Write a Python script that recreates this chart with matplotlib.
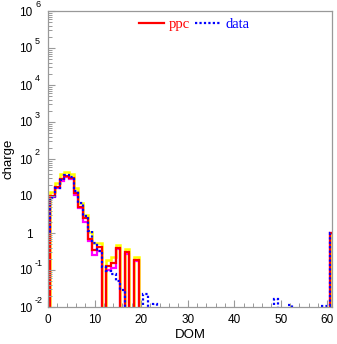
import numpy as np
import matplotlib
matplotlib.use("Agg")
import matplotlib.pyplot as plt
import matplotlib.transforms as mtransforms
from matplotlib.ticker import FixedLocator, FuncFormatter, LogLocator, MultipleLocator
from matplotlib.lines import Line2D

plt.rcParams["font.family"] = ["Liberation Sans", "DejaVu Sans"]

# Charge per DOM (bins centred on integer DOM numbers), sparse: DOM -> value
ppc_dom = [1, 2, 3, 4, 5, 6, 7, 8, 9, 10, 11, 13, 14, 15, 17, 19, 61]
ppc_val = [10, 17, 28, 34, 30, 12, 5.0, 2.5, 0.7, 0.35, 0.42, 0.13, 0.15, 0.40, 0.30, 0.19, 1.0]

upper_dom = [1, 2, 3, 4, 5, 6, 7, 8, 9, 10, 11, 13, 14, 15, 17, 19, 61]
upper_val = [13, 22, 40, 45, 39, 16, 6.6, 3.1, 1.05, 0.55, 0.55, 0.19, 0.22, 0.47, 0.36, 0.22, 1.0]

lower_dom = [1, 2, 3, 4, 5, 6, 7, 8, 9, 10, 11, 13, 14, 15, 17, 19, 61]
lower_val = [9.5, 16, 26, 32, 28, 10.5, 4.6, 2.0, 0.62, 0.25, 0.33, 0.10, 0.11, 0.36, 0.27, 0.17, 1.0]

data_dom = [0, 1, 2, 3, 4, 5, 6, 7, 8, 9, 10, 11, 12, 13, 14, 15, 16, 21, 23, 49, 52, 59, 60, 61]
data_val = [1.0, 9, 16, 27, 36, 33, 14, 6.3, 2.8, 1.1, 0.53, 0.33, 0.12, 0.095, 0.08, 0.05, 0.028,
            0.023, 0.012, 0.016, 0.011, 0.0105, 0.0105, 1.0]

y_exponents = list(range(-2, 7))

n_dom = 62
edges = np.arange(n_dom + 1) - 0.5
FLOOR = 1e-5  # empty bins sit below the visible range


def full(doms, vals):
    out = np.full(n_dom, FLOOR)
    out[np.asarray(doms)] = vals
    return out


W, H = 337, 344
fig = plt.figure(figsize=(W / 100, H / 100), dpi=100)
ax = fig.add_axes([48 / W, 1 - 307 / H, 284 / W, 296 / H])

ax.stairs(full(upper_dom, upper_val), edges, baseline=None, color="#ffff00", lw=1.8)
ax.stairs(full(lower_dom, lower_val), edges, baseline=None, color="#ff00ff", lw=1.6)
ax.stairs(full(ppc_dom, ppc_val), edges, baseline=None, color="#ff0000", lw=1.6)
ax.stairs(full(data_dom, data_val), edges, baseline=None, color="#0000ff", lw=1.6,
          linestyle=(0, (1, 1)))

ax.set_yscale("log")
ax.set_xlim(0, 61)
ax.set_ylim(1e-2, 1e6)

gray = "#999999"
for s in ax.spines.values():
    s.set_color(gray)
    s.set_linewidth(0.9)

ax.xaxis.set_major_locator(MultipleLocator(10))
ax.xaxis.set_minor_locator(MultipleLocator(2))
ax.yaxis.set_major_locator(FixedLocator([10.0 ** k for k in y_exponents]))
ax.yaxis.set_minor_locator(LogLocator(base=10, subs=np.arange(2, 10)))


def ylab(v, pos):
    k = int(round(np.log10(v)))
    return "1" if k == 0 else "10"


ax.yaxis.set_major_formatter(FuncFormatter(ylab))
ax.yaxis.set_minor_formatter(FuncFormatter(lambda v, p: ""))

ax.tick_params(which="both", direction="in", color=gray, top=False, right=False,
               labelsize=8.5, labelcolor="black")
ax.tick_params(which="major", length=5, width=0.8)
ax.tick_params(which="minor", length=3, width=0.7)
ax.tick_params(axis="y", pad=11)
ax.tick_params(axis="x", pad=5)

# exponents written beside the "10" labels
exp_tr = mtransforms.blended_transform_factory(fig.transFigure, ax.transData) + \
    mtransforms.ScaledTranslation(0, 2 / 100, fig.dpi_scale_trans)
for k in y_exponents:
    if k in (0, 1):
        continue
    ax.text(35 / W, 10.0 ** k, str(k), transform=exp_tr, fontsize=6.5,
            ha="left", va="bottom", clip_on=False)

ax.set_xlabel("DOM", fontsize=9.5, labelpad=2)
ax.set_ylabel("charge", fontsize=9.5)
ax.yaxis.set_label_coords((15 - 48) / 284, 0.5)

handles = [Line2D([], [], color="#ff0000", lw=1.6),
           Line2D([], [], color="#0000ff", lw=1.6, linestyle=(0, (1, 1)))]
leg = ax.legend(handles, ["ppc", "data"], loc="upper center", bbox_to_anchor=(0.515, 1.02),
                ncol=2, frameon=False, handlelength=1.75, handletextpad=0.35,
                columnspacing=0.35, prop={"family": ["Liberation Serif"], "size": 10.5})
for t, c in zip(leg.get_texts(), ["#ff0000", "#0000ff"]):
    t.set_color(c)

fig.savefig("out.png", dpi=100)
